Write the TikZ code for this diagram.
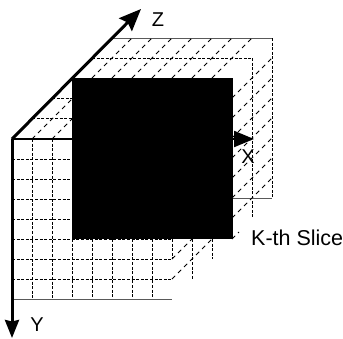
\documentclass[tikz,border=0pt]{standalone}
\usepackage{fontspec}
\setmainfont{Liberation Sans}
\usetikzlibrary{arrows.meta}
\tikzset{
  gridline/.style={black,line width=0.8pt,dash pattern=on 3pt off 1.6pt},
  diagline/.style={black,line width=0.85pt,dash pattern=on 4.5pt off 4pt},
  edgeline/.style={black!65,line width=1pt},
  axisline/.style={black,line width=3pt,-{Stealth[length=18pt,width=14pt,inset=1.5pt]}},
  zaxisline/.style={black,line width=3pt,-{Stealth[length=22pt,width=18pt,inset=3pt]}},
  xaxisline/.style={black,line width=2.2pt,-{Stealth[length=20pt,width=16pt,inset=0pt]}},
  axislabel/.style={inner sep=0pt,font=\fontsize{20}{20}\selectfont}
}
\begin{document}
\begin{tikzpicture}[x=1pt,y=-1pt]
\useasboundingbox (0,0) rectangle (343,338);
% top face
\draw[edgeline] (112,38) -- (272,38);
\draw[gridline] (92,58) -- (252,58);
\draw[gridline] (52,98) -- (72,98);
\draw[gridline] (32,118) -- (72,118);
\foreach \x in {92,112,...,212} \draw[diagline] (\x,78) -- ++(40,-40);
\draw[diagline] (32,139) -- (72,99);
\draw[diagline] (52,139) -- (72,119);
% right face
\draw[gridline] (252,58) -- (252,218);
\draw[gridline] (272,38) -- (272,198);
\draw[edgeline] (233,198) -- (272,198);
\foreach \y in {98,118,...,218} \draw[diagline] (232,\y) -- ++(40,-40);
\draw[diagline] (232,239) -- ++(7,-7);
% bottom face
\draw[gridline] (192,239) -- (192,279);
\draw[gridline] (212,239) -- (212,259);
\draw[diagline] (172,279) -- (212,239);
\draw[diagline] (172,259) -- (192,239);
% front grid
\foreach \y in {159,179,199,219} \draw[gridline] (12,\y) -- (72,\y);
\foreach \y in {239,259,279} \draw[gridline] (12,\y) -- (172,\y);
\foreach \x in {32,52} \draw[gridline] (\x,139) -- (\x,299);
\draw[gridline] (72,99) -- (72,139);
\foreach \x in {72,92,...,152} \draw[gridline] (\x,239) -- (\x,299);
\draw[gridline] (172,239) -- (172,259);
\draw[edgeline] (12,299) -- (172,299);
% axes
\coordinate (o) at (12,139);
\coordinate (xtip) at (254,139);
\coordinate (ytip) at (12,338);
\coordinate (ztip) at (141,9);
\draw[xaxisline] (o) -- (xtip);
\draw[axisline] (o) -- (ytip);
\draw[zaxisline] (o) -- (ztip);
% black slice
\node[fill=black,inner sep=0pt,outer sep=0pt,anchor=north west,minimum width=161pt,minimum height=161pt] (slice) at (72,78) {};
\node[axislabel] (zl) at (158,20) {Z};
\node[axislabel] (xl) at (248,157) {X};
\node[axislabel] (yl) at (37,325) {Y};
\node[inner sep=0pt,anchor=west,font=\fontsize{21.5}{21.5}\selectfont] (kl) at (251,238) {K-th Slice};
\end{tikzpicture}
\end{document}
